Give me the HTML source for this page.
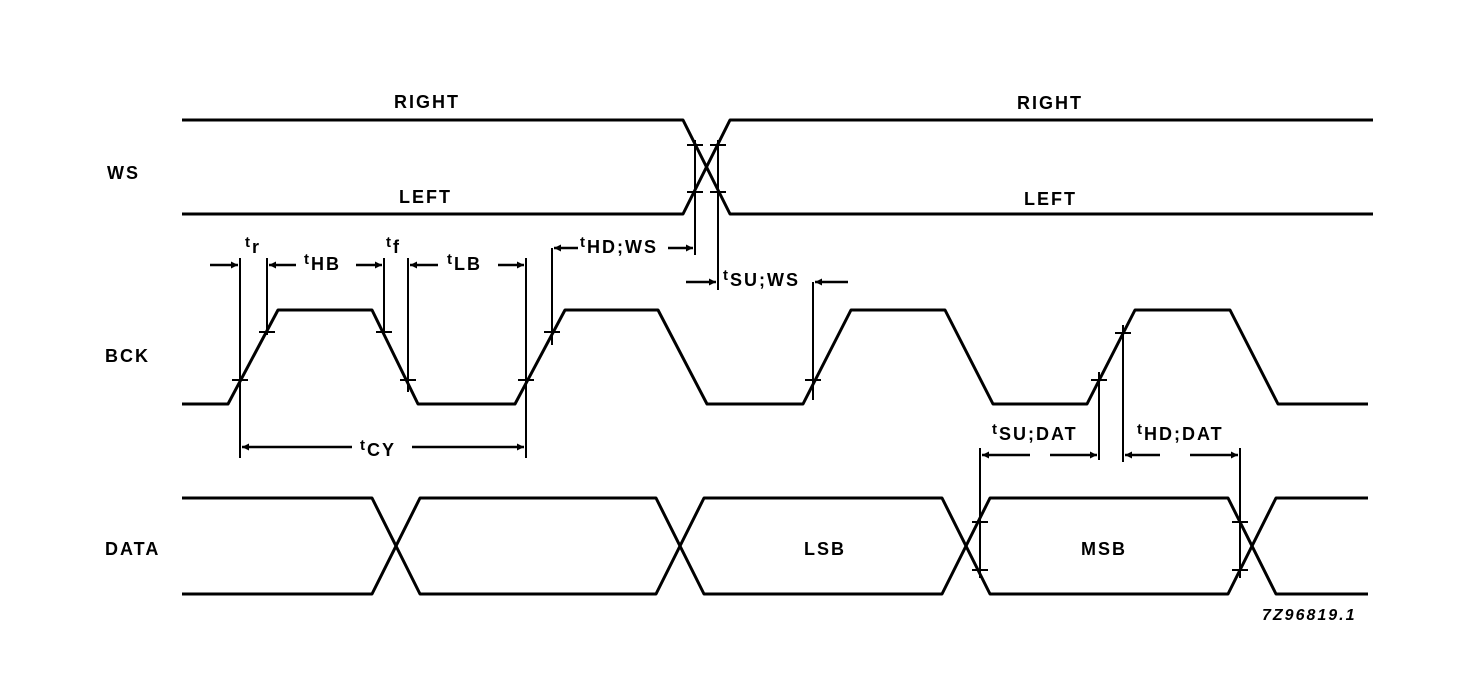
<!DOCTYPE html>
<html><head><meta charset="utf-8"><style>
html,body{margin:0;padding:0;background:#fff;}
svg{display:block;}
text{font-family:"Liberation Sans",sans-serif;font-weight:bold;fill:#000;letter-spacing:2px;}
</style></head><body>
<svg width="1465" height="676" viewBox="0 0 1465 676" xmlns="http://www.w3.org/2000/svg">
<defs>
<marker id="a" viewBox="0 0 10 10" refX="10" refY="5" markerWidth="13" markerHeight="7" orient="auto" markerUnits="userSpaceOnUse"><path d="M0,0 L10,5 L0,10 z" fill="#000"/></marker>
</defs>
<g fill="none" stroke="#000" stroke-width="3" stroke-linejoin="round">
<polyline points="182,120 683,120 730,214 1373,214"/>
<polyline points="182,214 683,214 730,120 1373,120"/>
<polyline points="182,404 228,404 278,310 372,310 418,404 515,404 565,310 658,310 707,404 803,404 851,310 945,310 993,404 1087,404 1135,310 1230,310 1278,404 1368,404"/>
<polyline points="182,498 372,498 420,594 656,594 704,498 942,498 990,594 1228,594 1276,498 1368,498"/>
<polyline points="182,594 372,594 420,498 656,498 704,594 942,594 990,498 1228,498 1276,594 1368,594"/>
</g>
<g stroke="#000" stroke-width="2" fill="none">
<line x1="695" y1="140" x2="695" y2="255"/>
<line x1="718" y1="140" x2="718" y2="290"/>
<line x1="240" y1="258" x2="240" y2="458"/>
<line x1="267" y1="258" x2="267" y2="335"/>
<line x1="384" y1="258" x2="384" y2="335"/>
<line x1="408" y1="258" x2="408" y2="392"/>
<line x1="526" y1="258" x2="526" y2="458"/>
<line x1="552" y1="248" x2="552" y2="345"/>
<line x1="813" y1="282" x2="813" y2="400"/>
<line x1="1099" y1="372" x2="1099" y2="460"/>
<line x1="1123" y1="325" x2="1123" y2="462"/>
<line x1="980" y1="448" x2="980" y2="578"/>
<line x1="1240" y1="448" x2="1240" y2="578"/>
<line x1="687" y1="145" x2="703" y2="145"/><line x1="687" y1="192" x2="703" y2="192"/>
<line x1="710" y1="145" x2="726" y2="145"/><line x1="710" y1="192" x2="726" y2="192"/>
<line x1="232" y1="380" x2="248" y2="380"/><line x1="259" y1="332" x2="275" y2="332"/>
<line x1="376" y1="332" x2="392" y2="332"/><line x1="400" y1="380" x2="416" y2="380"/>
<line x1="518" y1="380" x2="534" y2="380"/><line x1="544" y1="332" x2="560" y2="332"/>
<line x1="805" y1="380" x2="821" y2="380"/>
<line x1="1091" y1="380" x2="1107" y2="380"/><line x1="1115" y1="333" x2="1131" y2="333"/>
<line x1="972" y1="522" x2="988" y2="522"/><line x1="972" y1="570" x2="988" y2="570"/>
<line x1="1232" y1="522" x2="1248" y2="522"/><line x1="1232" y1="570" x2="1248" y2="570"/>
</g>
<g stroke="#000" stroke-width="2.5" marker-end="url(#a)">
<line x1="210" y1="265" x2="238" y2="265"/>
<line x1="296" y1="265" x2="269" y2="265"/>
<line x1="356" y1="265" x2="382" y2="265"/>
<line x1="438" y1="265" x2="410" y2="265"/>
<line x1="498" y1="265" x2="524" y2="265"/>
<line x1="578" y1="248" x2="554" y2="248"/>
<line x1="668" y1="248" x2="693" y2="248"/>
<line x1="686" y1="282" x2="716" y2="282"/>
<line x1="848" y1="282" x2="815" y2="282"/>
<line x1="352" y1="447" x2="242" y2="447"/>
<line x1="412" y1="447" x2="524" y2="447"/>
<line x1="1030" y1="455" x2="982" y2="455"/>
<line x1="1050" y1="455" x2="1097" y2="455"/>
<line x1="1160" y1="455" x2="1125" y2="455"/>
<line x1="1190" y1="455" x2="1238" y2="455"/>
</g>
<g font-size="18">
<text x="394" y="108">RIGHT</text>
<text x="1017" y="109">RIGHT</text>
<text x="399" y="203">LEFT</text>
<text x="1024" y="205">LEFT</text>
<text x="107" y="179">WS</text>
<text x="105" y="362">BCK</text>
<text x="105" y="555">DATA</text>
<text x="804" y="555">LSB</text>
<text x="1081" y="555">MSB</text>
<text x="1262" y="620" font-style="italic" font-size="16" letter-spacing="3.5">7Z96819.1</text>
<text x="245" y="247" font-size="15">t<tspan font-size="18" dy="6">r</tspan></text>
<text x="386" y="247" font-size="15">t<tspan font-size="18" dy="6">f</tspan></text>
<text x="304" y="264" font-size="15">t<tspan font-size="18" dy="6">HB</tspan></text>
<text x="447" y="264" font-size="15">t<tspan font-size="18" dy="6">LB</tspan></text>
<text x="580" y="247" font-size="15">t<tspan font-size="18" dy="6">HD;WS</tspan></text>
<text x="723" y="280" font-size="15">t<tspan font-size="18" dy="6">SU;WS</tspan></text>
<text x="360" y="450" font-size="15">t<tspan font-size="18" dy="6">CY</tspan></text>
<text x="992" y="434" font-size="15">t<tspan font-size="18" dy="6">SU;DAT</tspan></text>
<text x="1137" y="434" font-size="15">t<tspan font-size="18" dy="6">HD;DAT</tspan></text>
</g>
</svg>
</body></html>
